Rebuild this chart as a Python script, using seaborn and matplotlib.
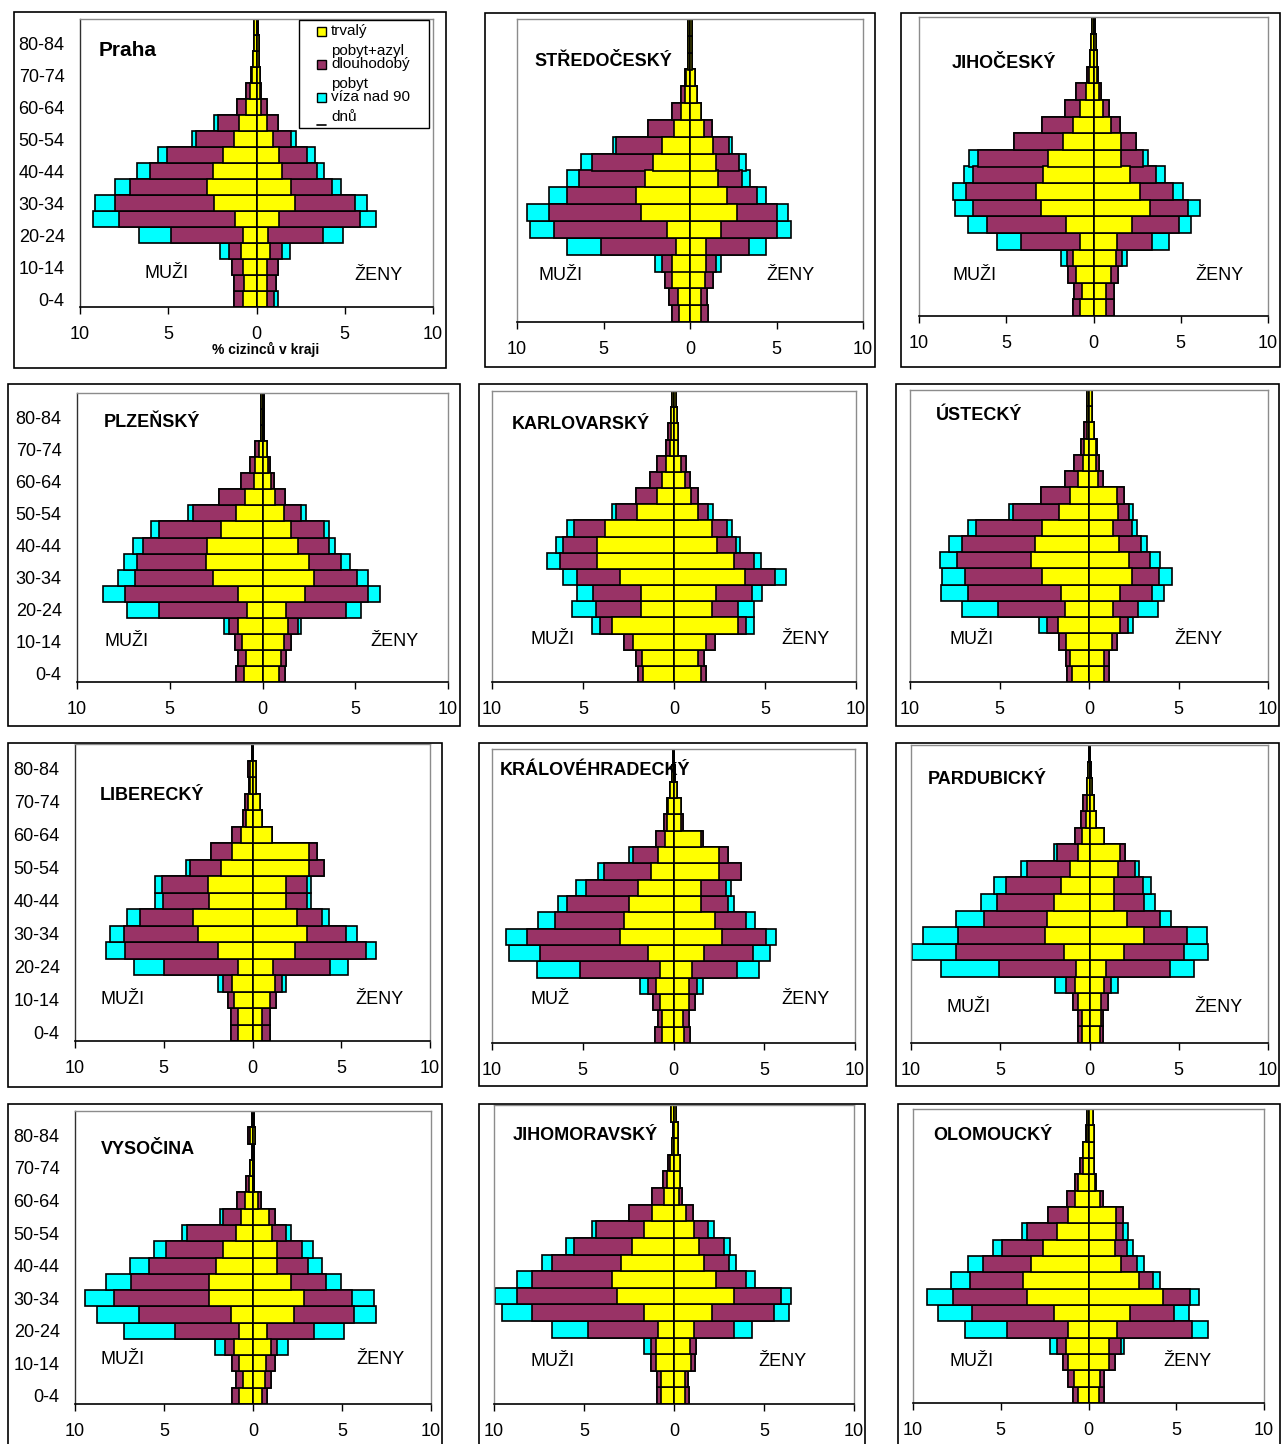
import matplotlib
matplotlib.use("Agg")
import matplotlib.pyplot as plt
from matplotlib.patches import Rectangle
from matplotlib.lines import Line2D
import seaborn as sns
import numpy as np

sns.set_style("white")
plt.rcParams['font.family'] = ['Liberation Sans', 'DejaVu Sans']

# ---------------- data ----------------
ages = ["0-4", "5-9", "10-14", "15-19", "20-24", "25-29", "30-34", "35-39", "40-44",
        "45-49", "50-54", "55-59", "60-64", "65-69", "70-74", "75-79", "80-84", "85+"]
age_labels = [a if i % 2 == 0 else "" for i, a in enumerate(ages)]
x_ticks = [-10, -5, 0, 5, 10]
x_tick_labels = ["10", "5", "0", "5", "10"]
categories = ["trvalý", "pobyt+azyl dlouhodobý", "víza nad 90 dnů"]
cat_colors = ["#FFFF00", "#993366", "#00FFFF"]

praha_m_trv = [0.79, 0.70, 0.79, 0.87, 0.79, 1.19, 2.42, 2.79, 2.45, 1.89, 1.26, 0.98, 0.57, 0.38, 0.28, 0.19, 0.15, 0.15]
praha_m_dlh = [0.49, 0.58, 0.59, 0.68, 4.08, 6.58, 5.62, 4.38, 3.59, 3.17, 2.19, 1.19, 0.51, 0.22, 0.04, 0, 0, 0]
praha_m_viz = [0, 0, 0, 0.49, 1.77, 1.48, 1.09, 0.87, 0.71, 0.51, 0.19, 0.23, 0, 0, 0, 0, 0, 0]
praha_z_trv = [0.57, 0.57, 0.60, 0.75, 0.66, 1.28, 2.19, 1.94, 1.43, 1.26, 0.96, 0.57, 0.28, 0.19, 0.20, 0.12, 0.15, 0.08]
praha_z_dlh = [0.43, 0.51, 0.63, 0.68, 3.11, 4.61, 3.38, 2.34, 1.97, 1.61, 0.98, 0.62, 0.34, 0.09, 0.02, 0, 0, 0]
praha_z_viz = [0.19, 0, 0, 0.46, 1.14, 0.90, 0.69, 0.49, 0.41, 0.43, 0.29, 0, 0, 0, 0, 0, 0, 0]

stred_m_trv = [0.63, 0.69, 1.02, 1.02, 0.79, 1.35, 2.85, 3.13, 2.62, 2.12, 1.60, 0.92, 0.50, 0.29, 0.25, 0.10, 0.10, 0.10]
stred_m_dlh = [0.43, 0.52, 0.42, 0.58, 4.33, 6.50, 5.32, 3.99, 3.78, 3.55, 2.65, 1.50, 0.52, 0.25, 0.02, 0, 0, 0]
stred_m_viz = [0, 0, 0, 0.44, 2.00, 1.42, 1.23, 1.01, 0.72, 0.64, 0.21, 0, 0, 0, 0, 0, 0, 0]
stred_z_trv = [0.62, 0.65, 0.87, 0.94, 0.90, 1.81, 2.73, 2.12, 1.62, 1.52, 1.31, 0.81, 0.62, 0.42, 0.29, 0.10, 0.10, 0.10]
stred_z_dlh = [0.43, 0.35, 0.48, 0.54, 2.52, 3.19, 2.27, 1.73, 1.36, 1.31, 0.94, 0.48, 0, 0, 0, 0, 0, 0]
stred_z_viz = [0, 0, 0, 0.33, 0.95, 0.81, 0.65, 0.52, 0.46, 0.42, 0.19, 0, 0, 0, 0, 0, 0, 0]

jiho_m_trv = [0.76, 0.65, 1.03, 1.15, 0.80, 1.57, 3.00, 3.29, 2.91, 2.62, 1.76, 1.15, 0.75, 0.42, 0.23, 0.20, 0.15, 0.10]
jiho_m_dlh = [0.39, 0.44, 0.44, 0.38, 3.35, 4.55, 3.92, 4.01, 4.01, 4.01, 2.77, 1.79, 0.91, 0.57, 0.17, 0, 0, 0]
jiho_m_viz = [0, 0, 0, 0.32, 1.39, 1.09, 1.00, 0.77, 0.48, 0.48, 0, 0, 0, 0, 0, 0, 0, 0]
jiho_z_trv = [0.73, 0.73, 1.01, 1.30, 1.34, 2.20, 3.21, 2.64, 2.10, 1.59, 1.59, 1.01, 0.54, 0.31, 0.21, 0.20, 0.15, 0.10]
jiho_z_dlh = [0.47, 0.47, 0.39, 0.33, 2.01, 2.69, 2.20, 1.91, 1.49, 1.24, 0.86, 0.48, 0.34, 0.13, 0.04, 0, 0, 0]
jiho_z_viz = [0, 0, 0, 0.30, 0.97, 0.71, 0.67, 0.57, 0.48, 0.29, 0, 0, 0, 0, 0, 0, 0, 0]

plzen_m_trv = [0.99, 0.90, 1.08, 1.31, 0.86, 1.31, 2.66, 3.05, 2.98, 2.26, 1.44, 0.95, 0.47, 0.38, 0.20, 0.10, 0.10, 0.10]
plzen_m_dlh = [0.45, 0.41, 0.41, 0.49, 4.71, 6.10, 4.22, 3.70, 3.48, 3.31, 2.33, 1.40, 0.71, 0.30, 0.21, 0, 0, 0]
plzen_m_viz = [0, 0, 0, 0.28, 1.72, 1.17, 0.89, 0.70, 0.54, 0.44, 0.23, 0, 0, 0, 0, 0, 0, 0]
plzen_z_trv = [0.88, 0.99, 1.17, 1.38, 1.29, 2.28, 2.76, 2.51, 1.89, 1.51, 1.17, 0.66, 0.48, 0.27, 0.22, 0.10, 0.10, 0.10]
plzen_z_dlh = [0.32, 0.30, 0.36, 0.51, 3.20, 3.41, 2.34, 1.71, 1.70, 1.79, 0.93, 0.54, 0.13, 0.16, 0, 0, 0, 0]
plzen_z_viz = [0, 0, 0, 0.21, 0.81, 0.63, 0.59, 0.48, 0.31, 0.27, 0.22, 0, 0, 0, 0, 0, 0, 0]

karl_m_trv = [1.69, 1.78, 2.24, 3.43, 1.83, 1.83, 2.94, 4.22, 4.22, 3.80, 2.06, 0.95, 0.68, 0.42, 0.24, 0.15, 0.15, 0.10]
karl_m_dlh = [0.31, 0.33, 0.48, 0.61, 2.43, 2.61, 2.38, 2.07, 1.87, 1.70, 1.15, 1.16, 0.66, 0.50, 0.22, 0.18, 0, 0]
karl_m_viz = [0, 0, 0, 0.46, 1.34, 0.88, 0.77, 0.68, 0.39, 0.37, 0.22, 0, 0, 0, 0, 0, 0, 0]
karl_z_trv = [1.50, 1.32, 1.74, 3.49, 2.11, 2.29, 3.91, 3.30, 2.39, 2.11, 1.32, 0.92, 0.59, 0.40, 0.24, 0.24, 0.15, 0.10]
karl_z_dlh = [0.28, 0.33, 0.50, 0.49, 1.43, 2.02, 1.65, 1.07, 1.00, 0.79, 0.57, 0.40, 0.27, 0.24, 0, 0, 0, 0]
karl_z_viz = [0, 0, 0, 0.42, 0.86, 0.55, 0.59, 0.40, 0.22, 0.31, 0.26, 0, 0, 0, 0, 0, 0, 0]

ust_m_trv = [0.97, 1.06, 1.29, 1.71, 1.34, 1.58, 2.65, 3.26, 3.02, 2.65, 1.68, 1.06, 0.60, 0.35, 0.26, 0.13, 0.09, 0.09]
ust_m_dlh = [0.28, 0.24, 0.39, 0.66, 3.73, 5.20, 4.28, 4.10, 4.10, 3.67, 2.59, 1.64, 0.74, 0.49, 0.21, 0.15, 0.03, 0]
ust_m_viz = [0, 0, 0, 0.41, 2.05, 1.51, 1.31, 0.97, 0.69, 0.43, 0.18, 0, 0, 0, 0, 0, 0, 0]
ust_z_trv = [0.86, 0.86, 1.27, 1.73, 1.32, 1.73, 2.39, 2.26, 1.70, 1.36, 1.64, 1.55, 0.52, 0.37, 0.39, 0.30, 0.15, 0.15]
ust_z_dlh = [0.28, 0.28, 0.28, 0.43, 1.44, 1.77, 1.54, 1.15, 1.19, 1.03, 0.62, 0.43, 0.28, 0.21, 0.05, 0, 0, 0]
ust_z_viz = [0, 0, 0, 0.28, 1.12, 0.71, 0.73, 0.56, 0.33, 0.28, 0.22, 0, 0, 0, 0, 0, 0, 0]

lib_m_trv = [0.84, 0.79, 1.07, 1.16, 0.79, 1.97, 3.05, 3.37, 2.47, 2.53, 1.78, 1.18, 0.66, 0.34, 0.24, 0.13, 0.13, 0.05]
lib_m_dlh = [0.38, 0.43, 0.30, 0.53, 4.17, 5.20, 4.20, 2.96, 2.59, 2.58, 1.74, 1.16, 0.52, 0.22, 0.17, 0.07, 0.15, 0]
lib_m_viz = [0, 0, 0, 0.28, 1.69, 1.07, 0.80, 0.73, 0.41, 0.36, 0.23, 0, 0, 0, 0, 0, 0, 0]
lib_z_trv = [0.56, 0.56, 0.97, 1.27, 1.18, 2.38, 3.09, 2.49, 1.87, 1.87, 3.18, 3.18, 1.12, 0.51, 0.41, 0.19, 0.19, 0.05]
lib_z_dlh = [0.41, 0.41, 0.34, 0.42, 3.18, 3.99, 2.19, 1.41, 1.18, 1.18, 0.82, 0.47, 0, 0, 0, 0, 0, 0]
lib_z_viz = [0, 0, 0, 0.18, 1.01, 0.60, 0.58, 0.41, 0.23, 0.23, 0, 0, 0, 0, 0, 0, 0, 0]

kh_m_trv = [0.61, 0.64, 0.77, 0.97, 0.74, 1.43, 2.94, 2.72, 2.43, 1.93, 1.25, 0.86, 0.46, 0.37, 0.28, 0.18, 0.10, 0.05]
kh_m_dlh = [0.39, 0.22, 0.37, 0.41, 4.41, 5.92, 5.15, 3.81, 3.42, 2.89, 2.56, 1.35, 0.51, 0.14, 0.07, 0, 0, 0]
kh_m_viz = [0, 0, 0, 0.46, 2.39, 1.69, 1.14, 0.91, 0.49, 0.55, 0.36, 0.23, 0, 0, 0, 0, 0, 0]
kh_z_trv = [0.59, 0.50, 0.86, 0.86, 1.01, 1.69, 2.67, 2.30, 1.51, 1.51, 2.52, 2.52, 1.51, 0.42, 0.42, 0.18, 0.10, 0.05]
kh_z_dlh = [0.33, 0.33, 0.33, 0.43, 2.48, 2.69, 2.42, 1.69, 1.47, 1.38, 1.21, 0.48, 0.14, 0.08, 0, 0, 0, 0]
kh_z_viz = [0, 0, 0, 0.36, 1.20, 0.95, 0.57, 0.48, 0.38, 0.29, 0, 0, 0, 0, 0, 0, 0, 0]

pard_m_trv = [0.41, 0.41, 0.65, 0.84, 0.75, 1.44, 2.52, 2.37, 2.00, 1.59, 1.12, 0.65, 0.41, 0.22, 0.15, 0.15, 0.10, 0.05]
pard_m_dlh = [0.24, 0.24, 0.28, 0.47, 4.34, 6.02, 4.85, 3.54, 3.17, 3.11, 2.39, 1.18, 0.43, 0.25, 0.19, 0, 0, 0]
pard_m_viz = [0, 0, 0, 0.61, 3.21, 2.50, 1.96, 1.55, 0.89, 0.67, 0.31, 0.17, 0, 0, 0, 0, 0, 0]
pard_z_trv = [0.60, 0.65, 0.65, 0.84, 0.90, 1.92, 3.08, 2.09, 1.40, 1.40, 1.59, 1.72, 0.80, 0.37, 0.28, 0.15, 0.10, 0.05]
pard_z_dlh = [0.18, 0.13, 0.38, 0.37, 3.61, 3.36, 2.37, 1.87, 1.68, 1.59, 0.98, 0.27, 0, 0, 0, 0, 0, 0]
pard_z_viz = [0, 0, 0, 0.41, 1.33, 1.34, 1.12, 0.61, 0.60, 0.46, 0.23, 0, 0, 0, 0, 0, 0, 0]

vys_m_trv = [0.79, 0.56, 0.79, 1.07, 0.79, 1.25, 2.49, 2.49, 2.06, 1.69, 0.97, 0.69, 0.47, 0.24, 0.19, 0.05, 0.15, 0.05]
vys_m_dlh = [0.41, 0.41, 0.39, 0.52, 3.61, 5.15, 5.32, 4.38, 3.80, 3.18, 2.72, 1.00, 0.41, 0.17, 0, 0, 0.13, 0]
vys_m_viz = [0, 0, 0, 0.56, 2.87, 2.35, 1.65, 1.37, 1.07, 0.71, 0.30, 0.18, 0, 0, 0, 0, 0, 0]
vys_z_trv = [0.51, 0.66, 0.75, 0.99, 0.79, 2.28, 2.87, 2.15, 1.37, 1.37, 1.09, 0.88, 0.28, 0.04, 0.04, 0.05, 0.13, 0.05]
vys_z_dlh = [0.29, 0.37, 0.47, 0.38, 2.62, 3.39, 2.71, 1.93, 1.72, 1.40, 0.78, 0.34, 0.19, 0, 0, 0, 0, 0]
vys_z_viz = [0, 0, 0, 0.60, 1.68, 1.26, 1.20, 0.88, 0.81, 0.60, 0.25, 0, 0, 0, 0, 0, 0, 0]

jm_m_trv = [0.70, 0.70, 0.98, 0.98, 0.89, 1.68, 3.15, 3.44, 2.92, 2.33, 1.68, 1.22, 0.57, 0.37, 0.24, 0.11, 0.06, 0.15]
jm_m_dlh = [0.24, 0.24, 0.32, 0.32, 3.88, 6.20, 5.55, 4.44, 3.85, 3.22, 2.67, 1.28, 0.65, 0.24, 0.09, 0, 0, 0]
jm_m_viz = [0, 0, 0, 0.38, 2.00, 1.65, 1.25, 0.82, 0.54, 0.43, 0.20, 0, 0, 0, 0, 0, 0, 0]
jm_z_trv = [0.59, 0.59, 0.96, 0.87, 1.09, 2.13, 3.31, 2.31, 1.65, 1.37, 1.11, 0.68, 0.28, 0.31, 0.31, 0.22, 0.22, 0.10]
jm_z_dlh = [0.24, 0.19, 0.22, 0.37, 2.24, 3.40, 2.65, 1.70, 1.38, 1.39, 0.78, 0.37, 0.18, 0, 0, 0, 0, 0]
jm_z_viz = [0, 0, 0, 0, 1.02, 0.85, 0.52, 0.47, 0.39, 0.37, 0.33, 0, 0, 0, 0, 0, 0, 0]

olo_m_trv = [0.57, 0.82, 1.14, 1.29, 1.18, 1.96, 3.52, 3.75, 3.27, 2.60, 1.81, 1.18, 0.76, 0.57, 0.34, 0.29, 0.10, 0.10]
olo_m_dlh = [0.34, 0.36, 0.29, 0.48, 3.44, 4.69, 4.18, 3.00, 2.76, 2.34, 1.71, 1.14, 0.44, 0.19, 0.14, 0, 0.05, 0]
olo_m_viz = [0, 0, 0, 0.42, 2.41, 1.94, 1.48, 1.10, 0.81, 0.52, 0.28, 0, 0, 0, 0, 0, 0, 0]
olo_z_trv = [0.61, 0.67, 1.18, 1.18, 1.62, 2.38, 4.24, 2.85, 1.84, 1.52, 1.58, 1.58, 0.67, 0.38, 0.32, 0.32, 0.32, 0.23]
olo_z_dlh = [0.25, 0.24, 0.34, 0.66, 4.27, 2.51, 1.52, 0.82, 0.92, 0.70, 0.41, 0.38, 0.15, 0.02, 0, 0, 0, 0]
olo_z_viz = [0, 0, 0, 0.16, 0.90, 0.85, 0.51, 0.42, 0.38, 0.29, 0.25, 0, 0, 0, 0, 0, 0, 0]

# ---------------- layout (pixels) ----------------
W, H = 1281, 1444
fig = plt.figure(figsize=(W / 100, H / 100), dpi=100)


def fx(px):
    return px / W


def fy(py):
    return 1 - py / H


panels = [
    dict(title="Praha", tsize=15, men="MUŽI", m=(praha_m_trv, praha_m_dlh, praha_m_viz),
         z=(praha_z_trv, praha_z_dlh, praha_z_viz), ax=(80, 19, 433, 307), outer=(14, 12, 446, 368),
         ylab=True, t_xy=(99, 51), m_xy=(144, 274), z_xy=(354, 275)),
    dict(title="STŘEDOČESKÝ", tsize=13, men="MUŽI", m=(stred_m_trv, stred_m_dlh, stred_m_viz),
         z=(stred_z_trv, stred_z_dlh, stred_z_viz), ax=(517, 19, 863, 322), outer=(485, 13, 875, 367),
         ylab=False, t_xy=(534, 62), m_xy=(538, 276), z_xy=(766, 276)),
    dict(title="JIHOČESKÝ", tsize=13, men="MUŽI", m=(jiho_m_trv, jiho_m_dlh, jiho_m_viz),
         z=(jiho_z_trv, jiho_z_dlh, jiho_z_viz), ax=(919, 17, 1268, 316), outer=(901, 13, 1280, 367),
         ylab=False, t_xy=(952, 63), m_xy=(952, 276), z_xy=(1195, 276)),
    dict(title="PLZEŇSKÝ", tsize=13, men="MUŽI", m=(plzen_m_trv, plzen_m_dlh, plzen_m_viz),
         z=(plzen_z_trv, plzen_z_dlh, plzen_z_viz), ax=(77, 393, 448, 682), outer=(8, 384, 460, 726),
         ylab=True, t_xy=(104, 423), m_xy=(105, 642), z_xy=(370, 642)),
    dict(title="KARLOVARSKÝ", tsize=13, men="MUŽI", m=(karl_m_trv, karl_m_dlh, karl_m_viz),
         z=(karl_z_trv, karl_z_dlh, karl_z_viz), ax=(492, 391, 856, 682), outer=(479, 384, 867, 726),
         ylab=False, t_xy=(512, 424), m_xy=(531, 639), z_xy=(781, 639)),
    dict(title="ÚSTECKÝ", tsize=13, men="MUŽI", m=(ust_m_trv, ust_m_dlh, ust_m_viz),
         z=(ust_z_trv, ust_z_dlh, ust_z_viz), ax=(910, 390, 1268, 682), outer=(896, 384, 1279, 726),
         ylab=False, t_xy=(936, 416), m_xy=(949, 639), z_xy=(1174, 639)),
    dict(title="LIBERECKÝ", tsize=13, men="MUŽI", m=(lib_m_trv, lib_m_dlh, lib_m_viz),
         z=(lib_z_trv, lib_z_dlh, lib_z_viz), ax=(75, 744, 430, 1041), outer=(8, 743, 442, 1087),
         ylab=True, t_xy=(100, 795), m_xy=(100, 1000), z_xy=(355, 1000)),
    dict(title="KRÁLOVÉHRADECKÝ", tsize=13, men="MUŽ", m=(kh_m_trv, kh_m_dlh, kh_m_viz),
         z=(kh_z_trv, kh_z_dlh, kh_z_viz), ax=(492, 749, 855, 1043), outer=(479, 743, 867, 1086),
         ylab=False, t_xy=(500, 771), m_xy=(530, 999), z_xy=(781, 999)),
    dict(title="PARDUBICKÝ", tsize=13, men="MUŽI", m=(pard_m_trv, pard_m_dlh, pard_m_viz),
         z=(pard_z_trv, pard_z_dlh, pard_z_viz), ax=(911, 745, 1268, 1043), outer=(896, 743, 1279, 1086),
         ylab=False, t_xy=(928, 780), m_xy=(947, 1007), z_xy=(1194, 1007)),
    dict(title="VYSOČINA", tsize=13, men="MUŽI", m=(vys_m_trv, vys_m_dlh, vys_m_viz),
         z=(vys_z_trv, vys_z_dlh, vys_z_viz), ax=(75, 1111, 431, 1404), outer=(8, 1104, 442, 1460),
         ylab=True, t_xy=(101, 1149), m_xy=(101, 1359), z_xy=(356, 1359)),
    dict(title="JIHOMORAVSKÝ", tsize=13, men="MUŽI", m=(jm_m_trv, jm_m_dlh, jm_m_viz),
         z=(jm_z_trv, jm_z_dlh, jm_z_viz), ax=(494, 1105, 854, 1404), outer=(479, 1104, 865, 1460),
         ylab=False, t_xy=(513, 1136), m_xy=(530, 1361), z_xy=(758, 1361)),
    dict(title="OLOMOUCKÝ", tsize=13, men="MUŽI", m=(olo_m_trv, olo_m_dlh, olo_m_viz),
         z=(olo_z_trv, olo_z_dlh, olo_z_viz), ax=(913, 1109, 1264, 1403), outer=(898, 1104, 1280, 1460),
         ylab=False, t_xy=(933, 1136), m_xy=(949, 1361), z_xy=(1163, 1361)),
]


def draw_side(ax, comps, sign):
    cum = np.cumsum(np.array(comps, dtype=float), axis=0)
    for k in (2, 1, 0):
        sns.barplot(x=sign * cum[k], y=ages, order=ages, orient="h", color=cat_colors[k],
                    width=1.0, edgecolor="black", linewidth=1.2, saturation=1,
                    errorbar=None, ax=ax)


for p in panels:
    x0, y0, x1, y1 = p["ax"]
    ax = fig.add_axes([fx(x0), fy(y1), (x1 - x0) / W, (y1 - y0) / H])
    draw_side(ax, p["m"], -1)
    draw_side(ax, p["z"], 1)
    ax.set_xlim(-10, 10)
    ax.set_ylim(-0.5, 17.5)
    ax.set_xlabel("")
    ax.set_ylabel("")
    ax.set_xticks(x_ticks)
    ax.set_xticklabels(x_tick_labels, fontsize=13)
    ax.set_yticks(range(len(ages)))
    if p["ylab"]:
        ax.set_yticklabels(age_labels, fontsize=13)
    else:
        ax.set_yticklabels([])
    ax.tick_params(axis="x", bottom=True, direction="out", length=5, width=1,
                   color="black", pad=9, labelcolor="black")
    ax.tick_params(axis="y", left=False, length=0, pad=11, labelcolor="black")
    for s in ("top", "right"):
        ax.spines[s].set_color("#8c8c8c")
        ax.spines[s].set_linewidth(1.0)
    ax.spines["left"].set_color("#303030" if p["ylab"] else "#8c8c8c")
    ax.spines["left"].set_linewidth(1.0)
    ax.spines["bottom"].set_color("black")
    ax.spines["bottom"].set_linewidth(1.2)
    for s in ax.spines.values():
        s.set_visible(True)

    ox0, oy0, ox1, oy1 = p["outer"]
    fig.add_artist(Rectangle((fx(ox0), fy(oy1)), (ox1 - ox0) / W, (oy1 - oy0) / H,
                             transform=fig.transFigure, fill=False, edgecolor="black",
                             linewidth=1.2, zorder=3))
    fig.text(fx(p["t_xy"][0]), fy(p["t_xy"][1]), p["title"], fontsize=p["tsize"],
             fontweight="bold", ha="left", va="center", color="black")
    fig.text(fx(p["m_xy"][0]), fy(p["m_xy"][1]), p["men"], fontsize=13,
             ha="left", va="center", color="black")
    fig.text(fx(p["z_xy"][0]), fy(p["z_xy"][1]), "ŽENY", fontsize=13,
             ha="left", va="center", color="black")

# axis title of the first panel
fig.text(fx(266), fy(349), "% cizinců v kraji", fontsize=10, fontweight="bold",
         ha="center", va="center", color="black")

# legend of the first panel
fig.add_artist(Rectangle((fx(299), fy(128)), 130 / W, 108 / H, transform=fig.transFigure,
                         facecolor="white", edgecolor="black", linewidth=1.0, zorder=5))
for (cy, col) in ((31.5, cat_colors[0]), (64.5, cat_colors[1]), (97.5, cat_colors[2])):
    fig.add_artist(Rectangle((fx(317), fy(cy + 4.5)), 9 / W, 9 / H, transform=fig.transFigure,
                             facecolor=col, edgecolor="black", linewidth=1.0, zorder=6))
fig.add_artist(Line2D([fx(317), fx(326)], [fy(125), fy(125)], transform=fig.transFigure,
                      color="black", linewidth=1.2, zorder=6))
for (ty, txt) in ((31, "trvalý"), (51, "pobyt+azyl"), (64, "dlouhodobý"),
                  (84, "pobyt"), (97, "víza nad 90"), (117, "dnů")):
    fig.text(fx(331), fy(ty), txt, fontsize=11, ha="left", va="center", color="black", zorder=7)

fig.savefig("out.png", dpi=100, facecolor="white")
